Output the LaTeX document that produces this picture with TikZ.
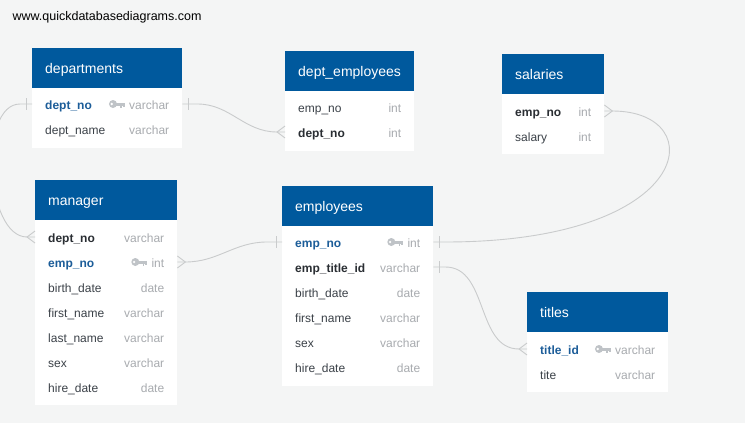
\documentclass[tikz,border=0pt]{standalone}
\usepackage{fontspec}
\setmainfont{Liberation Sans}
\usetikzlibrary{calc}

\definecolor{bggray}{HTML}{F4F5F5}
\definecolor{erblue}{HTML}{00599D}
\definecolor{pkblue}{HTML}{1C5D99}
\definecolor{fieldtxt}{HTML}{3B4148}
\definecolor{boldtxt}{HTML}{2A2E33}
\definecolor{typegray}{HTML}{A8ABAF}
\definecolor{keygray}{HTML}{BFC3C7}
\definecolor{linkgray}{HTML}{C9CBCC}

\tikzset{
    head/.style={fill=erblue, text=white, anchor=north west,
        font=\fontsize{14}{16}\selectfont, minimum height=40pt,
        text height=14pt, text depth=3pt,
        inner xsep=13pt, inner ysep=0pt, align=left},
    tbody/.style={fill=white, inner sep=0pt, anchor=north west},
    row/.style={anchor=west, text width=#1, align=left,
        minimum height=25pt, inner xsep=13pt, inner ysep=0pt,
        text height=13pt, text depth=3pt, text=fieldtxt,
        font=\fontsize{12}{14}\selectfont},
    pk/.style={row=#1, text=pkblue,
        font=\fontsize{12}{14}\selectfont\bfseries},
    fk/.style={row=#1, text=boldtxt,
        font=\fontsize{12}{14}\selectfont\bfseries},
    ftype/.style={anchor=east, inner sep=0pt, text=typegray,
        text height=13pt, text depth=3pt,
        font=\fontsize{12}{14}\selectfont},
    link/.style={draw=linkgray, line width=0.9pt},
    pics/one/.style={code={\draw[link] (6,-6) -- (6,6);}},
    pics/many/.style={code={\draw[link] (0,-6) -- (8,0) -- (0,6);}},
    pics/pkey/.style={code={
        \fill[keygray] (4,0) circle (4pt);
        \fill[white] (2.8,0) circle (1.3pt);
        \fill[keygray] (7,-1.5) rectangle (16,1.5);
        \fill[keygray] (11.5,1.5) rectangle (13,3.8);
        \fill[keygray] (14,1.5) rectangle (16,3.2);
    }}
}

\begin{document}
\begin{tikzpicture}[x=1pt, y=-1pt]
    \clip (0,0) rectangle (745,423);
    \fill[bggray] (0,0) rectangle (745,423);

    \node[anchor=west, font=\fontsize{12.5}{14}\selectfont]
        (url) at (9,17.5) {www.quickdatabasediagrams.com};

    % departments
    \node[head, text width=124pt] (dep) at (32,48) {departments};
    \node[tbody, minimum width=150pt, minimum height=60pt]
        (dep-box) at (32,88) {};
    \node[pk=124pt] (dep-dno) at (32,104) {dept\_no};
    \node[ftype] (dep-dno-t) at ([xshift=-13pt]dep-dno.east) {varchar};
    \pic at ([xshift=-20pt]dep-dno-t.west) {pkey};
    \node[row=124pt] (dep-dname) at (32,129) {dept\_name};
    \node[ftype] (dep-dname-t) at ([xshift=-13pt]dep-dname.east) {varchar};

    % dept_employees
    \node[head, text width=103pt] (dem) at (285,51) {dept\_employees};
    \node[tbody, minimum width=129pt, minimum height=60pt]
        (dem-box) at (285,91) {};
    \node[row=103pt] (dem-eno) at (285,107) {emp\_no};
    \node[ftype] (dem-eno-t) at ([xshift=-13pt]dem-eno.east) {int};
    \node[fk=103pt] (dem-dno) at (285,132) {dept\_no};
    \node[ftype] (dem-dno-t) at ([xshift=-13pt]dem-dno.east) {int};

    % salaries
    \node[head, text width=76pt] (sal) at (502,54) {salaries};
    \node[tbody, minimum width=102pt, minimum height=60pt]
        (sal-box) at (502,94) {};
    \node[fk=76pt] (sal-eno) at (502,111) {emp\_no};
    \node[ftype] (sal-eno-t) at ([xshift=-13pt]sal-eno.east) {int};
    \node[row=76pt] (sal-sal) at (502,136) {salary};
    \node[ftype] (sal-sal-t) at ([xshift=-13pt]sal-sal.east) {int};

    % manager
    \node[head, text width=116pt] (man) at (35,180) {manager};
    \node[tbody, minimum width=142pt, minimum height=185pt]
        (man-box) at (35,220) {};
    \node[fk=116pt] (man-dno) at (35,237) {dept\_no};
    \node[ftype] (man-dno-t) at ([xshift=-13pt]man-dno.east) {varchar};
    \node[pk=116pt] (man-eno) at (35,262) {emp\_no};
    \node[ftype] (man-eno-t) at ([xshift=-13pt]man-eno.east) {int};
    \pic at ([xshift=-20pt]man-eno-t.west) {pkey};
    \node[row=116pt] (man-bd) at (35,287) {birth\_date};
    \node[ftype] (man-bd-t) at ([xshift=-13pt]man-bd.east) {date};
    \node[row=116pt] (man-fn) at (35,312) {first\_name};
    \node[ftype] (man-fn-t) at ([xshift=-13pt]man-fn.east) {varchar};
    \node[row=116pt] (man-ln) at (35,337) {last\_name};
    \node[ftype] (man-ln-t) at ([xshift=-13pt]man-ln.east) {varchar};
    \node[row=116pt] (man-sex) at (35,362) {sex};
    \node[ftype] (man-sex-t) at ([xshift=-13pt]man-sex.east) {varchar};
    \node[row=116pt] (man-hd) at (35,387) {hire\_date};
    \node[ftype] (man-hd-t) at ([xshift=-13pt]man-hd.east) {date};

    % employees
    \node[head, text width=125pt] (emp) at (282,186) {employees};
    \node[tbody, minimum width=151pt, minimum height=160pt]
        (emp-box) at (282,226) {};
    \node[pk=125pt] (emp-eno) at (282,242) {emp\_no};
    \node[ftype] (emp-eno-t) at ([xshift=-13pt]emp-eno.east) {int};
    \pic at ([xshift=-20pt]emp-eno-t.west) {pkey};
    \node[fk=125pt] (emp-tid) at (282,267) {emp\_title\_id};
    \node[ftype] (emp-tid-t) at ([xshift=-13pt]emp-tid.east) {varchar};
    \node[row=125pt] (emp-bd) at (282,292) {birth\_date};
    \node[ftype] (emp-bd-t) at ([xshift=-13pt]emp-bd.east) {date};
    \node[row=125pt] (emp-fn) at (282,317) {first\_name};
    \node[ftype] (emp-fn-t) at ([xshift=-13pt]emp-fn.east) {varchar};
    \node[row=125pt] (emp-sex) at (282,342) {sex};
    \node[ftype] (emp-sex-t) at ([xshift=-13pt]emp-sex.east) {varchar};
    \node[row=125pt] (emp-hd) at (282,367) {hire\_date};
    \node[ftype] (emp-hd-t) at ([xshift=-13pt]emp-hd.east) {date};

    % titles
    \node[head, text width=115pt] (tit) at (527,292) {titles};
    \node[tbody, minimum width=141pt, minimum height=60pt]
        (tit-box) at (527,332) {};
    \node[pk=115pt] (tit-tid) at (527,349) {title\_id};
    \node[ftype] (tit-tid-t) at ([xshift=-13pt]tit-tid.east) {varchar};
    \pic at ([xshift=-20pt]tit-tid-t.west) {pkey};
    \node[row=115pt] (tit-tite) at (527,374) {tite};
    \node[ftype] (tit-tite-t) at ([xshift=-13pt]tit-tite.east) {varchar};

    % Links
    \draw[link] (dep-dno.east) -- ++(15,0) to[out=0, in=180]
        ($(dem-dno.west)+(-8,0)$) -- (dem-dno.west);
    \pic at (dep-dno.east) {one};
    \pic[xscale=-1] at (dem-dno.west) {many};
    %
    \draw[link] (dep-dno.west) -- ++(-12,0)
        to[out=180, in=180, looseness=0.8]
        ($(man-dno.west)+(-8,0)$) -- (man-dno.west);
    \pic[xscale=-1] at (dep-dno.west) {one};
    \pic[xscale=-1] at (man-dno.west) {many};
    %
    \draw[link] (emp-eno.west) -- ++(-15,0) to[out=180, in=0]
        ($(man-eno.east)+(8,0)$) -- (man-eno.east);
    \pic[xscale=-1] at (emp-eno.west) {one};
    \pic at (man-eno.east) {many};
    %
    \draw[link] (emp-eno.east) -- ++(12,0)
        .. controls +(250,0) and +(100,0) ..
        ($(sal-eno.east)+(8,0)$) -- (sal-eno.east);
    \pic at (emp-eno.east) {one};
    \pic at (sal-eno.east) {many};
    %
    \draw[link] (emp-tid.east) -- ++(12,0) to[out=0, in=180]
        ($(tit-tid.west)+(-8,0)$) -- (tit-tid.west);
    \pic at (emp-tid.east) {one};
    \pic[xscale=-1] at (tit-tid.west) {many};

\end{tikzpicture}
\end{document}
